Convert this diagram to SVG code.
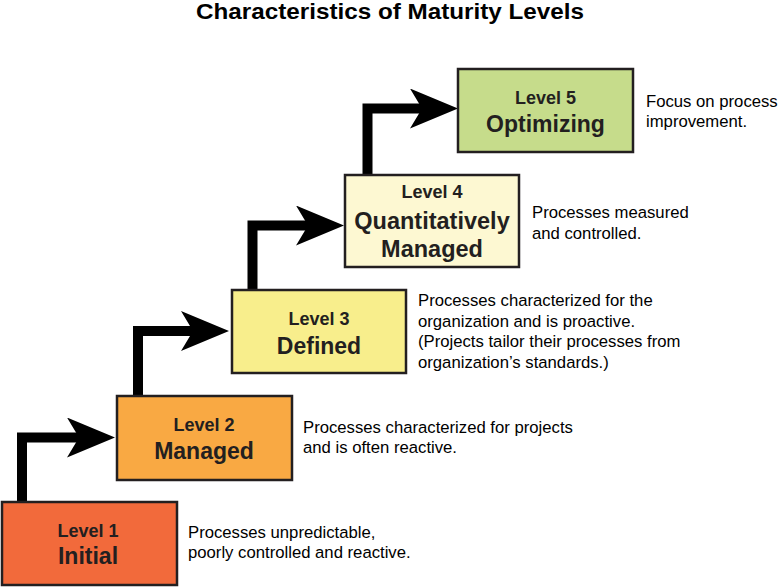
<svg xmlns="http://www.w3.org/2000/svg" width="780" height="587" viewBox="0 0 780 587">
<style>
.title{font-family:"Liberation Sans",Arial,sans-serif;font-weight:bold;font-size:22px;fill:#000;text-anchor:middle}
.box{stroke:#231F20;stroke-width:2.5}
.lvl{font-family:"Liberation Sans",Arial,sans-serif;font-weight:bold;font-size:18px;fill:#231F20;text-anchor:middle}
.name{font-family:"Liberation Sans",Arial,sans-serif;font-weight:bold;font-size:23px;fill:#231F20;text-anchor:middle}
.desc{font-family:"Liberation Sans",Arial,sans-serif;font-size:16.7px;fill:#000}
.conn{fill:none;stroke:#000;stroke-width:10;stroke-linejoin:miter;marker-end:url(#head)}
</style>
<defs>
<marker id="head" markerUnits="userSpaceOnUse" markerWidth="48" markerHeight="40" viewBox="0 0 48 40" refX="12" refY="20" orient="auto">
<path d="M0,0 L48,20 L0,40 L12,20 Z" fill="#000"/>
</marker>
</defs>
<rect width="780" height="587" fill="#fff"/>
<text class="title" x="390" y="19" textLength="388" lengthAdjust="spacingAndGlyphs">Characteristics of Maturity Levels</text>
<g id="connectors">
<path class="conn" d="M22,503 V437.5 H79"/>
<path class="conn" d="M138,396 V331 H193"/>
<path class="conn" d="M252.5,290 V225.5 H308"/>
<path class="conn" d="M367.5,175 V108.5 H422"/>
</g>
<g id="level1">
<rect class="box" x="2" y="502" width="175" height="83" fill="#F26A3B"/>
<text class="lvl" x="88" y="537">Level 1</text>
<text class="name" x="88" y="564">Initial</text>
<text class="desc" x="188" y="538">Processes unpredictable,</text>
<text class="desc" x="188" y="558">poorly controlled and reactive.</text>
</g>
<g id="level2">
<rect class="box" x="117" y="396" width="175" height="84" fill="#F9A943"/>
<text class="lvl" x="204" y="431">Level 2</text>
<text class="name" x="204" y="459">Managed</text>
<text class="desc" x="303" y="433">Processes characterized for projects</text>
<text class="desc" x="303" y="453">and is often reactive.</text>
</g>
<g id="level3">
<rect class="box" x="232" y="290" width="174" height="83" fill="#F8EE8C"/>
<text class="lvl" x="319" y="325">Level 3</text>
<text class="name" x="319" y="354">Defined</text>
<text class="desc" x="418" y="306">Processes characterized for the</text>
<text class="desc" x="418" y="326.5">organization and is proactive.</text>
<text class="desc" x="418" y="347">(Projects tailor their processes from</text>
<text class="desc" x="418" y="367.5">organization’s standards.)</text>
</g>
<g id="level4">
<rect class="box" x="345" y="175" width="174" height="92" fill="#FDF8D2"/>
<text class="lvl" x="432" y="198">Level 4</text>
<text class="name" x="432" y="229" style="font-size:23.5px">Quantitatively</text>
<text class="name" x="432" y="257" style="font-size:23.5px">Managed</text>
<text class="desc" x="532" y="218">Processes measured</text>
<text class="desc" x="532" y="238.5">and controlled.</text>
</g>
<g id="level5">
<rect class="box" x="458" y="69" width="175" height="83" fill="#C6DC8B"/>
<text class="lvl" x="545.5" y="104">Level 5</text>
<text class="name" x="545.5" y="132">Optimizing</text>
<text class="desc" x="646" y="107">Focus on process</text>
<text class="desc" x="646" y="127">improvement.</text>
</g>
</svg>
